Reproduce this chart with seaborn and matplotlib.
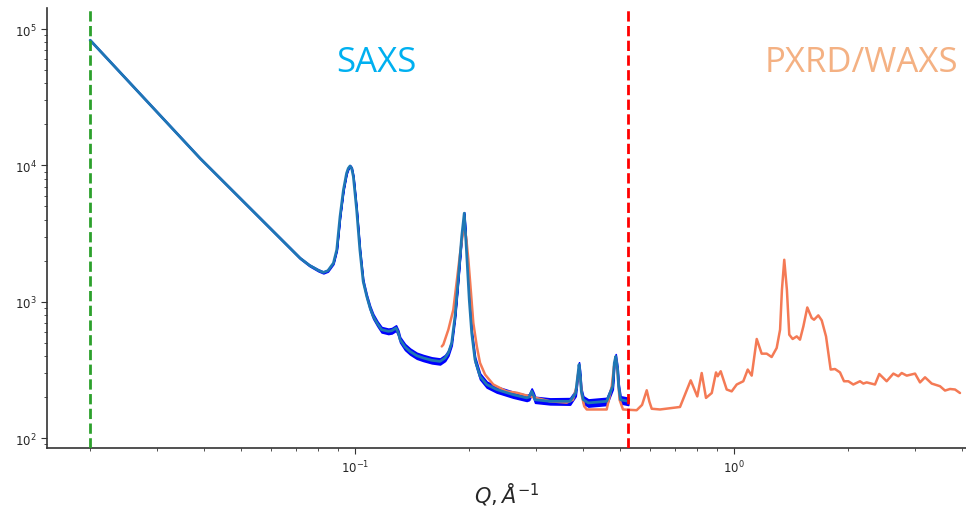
import numpy as np
import pandas as pd
import matplotlib
matplotlib.use("Agg")
import matplotlib.pyplot as plt
import seaborn as sns

# SAXS profile: scattering vector Q (1/Å) and intensity
saxs_q = [0.0200, 0.0390, 0.0716, 0.0758, 0.0800, 0.0825, 0.0848, 0.0877, 0.0895,
          0.0913, 0.0932, 0.0950, 0.0960, 0.0970, 0.0980, 0.0990, 0.1000, 0.1010,
          0.1020, 0.1030, 0.1041, 0.1051, 0.1074, 0.1096, 0.1117, 0.1146, 0.1175,
          0.1224, 0.1250, 0.1283, 0.1301, 0.1315, 0.1355, 0.1397, 0.1455, 0.1514,
          0.1594, 0.1676, 0.1728, 0.1763, 0.1799, 0.1836, 0.1862, 0.1884, 0.1912,
          0.1942, 0.1968, 0.2002, 0.2032, 0.2073, 0.2137, 0.2226, 0.2365, 0.2616,
          0.2838, 0.2880, 0.2925, 0.2960, 0.2986, 0.3269, 0.3692, 0.3822, 0.3878,
          0.3900, 0.3924, 0.3955, 0.4002, 0.4126, 0.4614, 0.4787, 0.4832, 0.4874,
          0.4930, 0.4960, 0.5019, 0.5260]
saxs_i = [83000, 11290, 2090, 1850, 1700, 1640, 1690, 1921, 2405,
          4217, 6615, 8770, 9530, 9910, 9530, 8280, 6250, 4720,
          3365, 2405, 1814, 1409, 1094, 899, 781, 690, 624,
          607, 613, 642, 590, 527, 466, 432, 402, 387,
          372, 365, 387, 421, 498, 781, 1224, 1814, 3005,
          4465, 2405, 1034, 590, 376, 284, 247, 227, 208,
          197, 200, 220, 205, 191, 186, 186, 214, 300,
          346, 300, 220, 191, 181, 186, 240, 355, 397,
          318, 240, 191, 186]
# relative uncertainty of the SAXS intensity
saxs_rel_err = [0.008, 0.008, 0.01, 0.012, 0.015, 0.015, 0.015, 0.015, 0.015,
                0.015, 0.015, 0.015, 0.015, 0.015, 0.015, 0.015, 0.02, 0.02,
                0.02, 0.025, 0.025, 0.03, 0.03, 0.035, 0.04, 0.04, 0.045,
                0.045, 0.045, 0.045, 0.045, 0.045, 0.05, 0.05, 0.05, 0.05,
                0.05, 0.05, 0.05, 0.045, 0.04, 0.03, 0.025, 0.02, 0.015,
                0.015, 0.02, 0.03, 0.04, 0.05, 0.05, 0.05, 0.05, 0.05,
                0.05, 0.05, 0.05, 0.05, 0.05, 0.05, 0.055, 0.05, 0.04,
                0.04, 0.04, 0.05, 0.06, 0.06, 0.06, 0.05, 0.04, 0.04,
                0.04, 0.05, 0.06, 0.06]

# PXRD / WAXS profile
pxrd_q = [0.1694, 0.1710, 0.1763, 0.1817, 0.1853, 0.1894, 0.1923, 0.1940, 0.1964,
          0.1991, 0.2020, 0.2052, 0.2096, 0.2137, 0.2204, 0.2317, 0.2510, 0.2671,
          0.2894, 0.3269, 0.3619, 0.3757, 0.3846, 0.3868, 0.3900, 0.3936, 0.3971,
          0.4025, 0.4088, 0.4614, 0.4758, 0.4823, 0.4884, 0.4939, 0.4989, 0.5095,
          0.5535, 0.5720, 0.5885, 0.5980, 0.6066, 0.6380, 0.7203, 0.7687, 0.8001,
          0.8218, 0.8435, 0.8736, 0.8965, 0.9058, 0.9224, 0.9566, 0.9860, 1.0165,
          1.0580, 1.0870, 1.1135, 1.1480, 1.1830, 1.2200, 1.2570, 1.2960, 1.3230,
          1.3380, 1.3570, 1.3790, 1.3990, 1.4280, 1.4640, 1.4930, 1.5240, 1.5610,
          1.6030, 1.6260, 1.6690, 1.7040, 1.7490, 1.7990, 1.8470, 1.9040, 1.9510,
          2.0030, 2.0640, 2.1500, 2.1940, 2.2390, 2.3550, 2.4170, 2.5280, 2.6330,
          2.7140, 2.7700, 2.8560, 3.0040, 3.0960, 3.1920, 3.3240, 3.4960, 3.6040,
          3.7150, 3.8300, 3.9470]
pxrd_i = [470, 485, 624, 874, 1371, 2275, 3100, 3483, 3005,
          2032, 1224, 698, 470, 356, 292, 247, 220, 215,
          202, 186, 182, 191, 240, 284, 318, 268, 202,
          171, 162, 162, 240, 336, 376, 284, 191, 162,
          160, 175, 224, 185, 164, 162, 169, 265, 202,
          300, 197, 214, 303, 284, 309, 227, 220, 247,
          261, 318, 287, 533, 416, 416, 393, 458, 624,
          1224, 2032, 1224, 573, 533, 557, 527, 659, 908,
          760, 738, 794, 730, 557, 318, 321, 303, 261,
          261, 247, 261, 251, 256, 247, 295, 261, 297,
          284, 300, 287, 297, 256, 279, 251, 240, 223,
          229, 227, 214]

# Boundaries of the measured ranges
q_min_saxs = 0.020
q_split = 0.525

saxs = pd.DataFrame({"Q": saxs_q, "I": saxs_i, "err": saxs_rel_err})
pxrd = pd.DataFrame({"Q": pxrd_q, "I": pxrd_i})

sns.set_style("ticks")
plt.rcParams["font.family"] = ["DejaVu Sans"]

fig = plt.figure(figsize=(9.66, 5.10), dpi=100)
ax = fig.add_axes([47 / 966, 61 / 510, 919 / 966, 440 / 510])

# error band of the SAXS data
ax.fill_between(saxs["Q"], saxs["I"] * (1 - saxs["err"]), saxs["I"] * (1 + saxs["err"]),
                color="blue", lw=1.2, edgecolor="blue", zorder=2)
sns.lineplot(data=pxrd, x="Q", y="I", ax=ax, color="#f47a55", lw=1.8,
             estimator=None, sort=False, zorder=3)
sns.lineplot(data=saxs, x="Q", y="I", ax=ax, color="#1f77b4", lw=2.0,
             estimator=None, sort=False, zorder=4)

ax.axvline(q_min_saxs, color="#2ca02c", ls="--", lw=2, zorder=5)
ax.axvline(q_split, color="red", ls="--", lw=2, zorder=5)

ax.set_xscale("log")
ax.set_yscale("log")
ax.set_xlim(0.01539, 4.094)
ax.set_ylim(84.5, 1.43e5)

ax.set_xlabel(r"$Q, \AA^{-1}$", fontsize=15)
ax.set_ylabel("")
ax.tick_params(axis="both", which="major", labelsize=8.5, length=4, color="#333333")
ax.tick_params(axis="both", which="minor", length=2.5, color="#333333")
sns.despine(ax=ax)
for s in ("left", "bottom"):
    ax.spines[s].set_color("#333333")
    ax.spines[s].set_linewidth(1.2)

# section titles, placed in figure pixels
fig.text(376 / 966, 1 - 63 / 510, "SAXS", fontsize=25, color="#00b0f0",
         family="Open Sans", ha="center", va="center")
fig.text(861 / 966, 1 - 63 / 510, "PXRD/WAXS", fontsize=25, color="#f4b183",
         family="Open Sans", ha="center", va="center")

fig.savefig("out.png", dpi=100)
